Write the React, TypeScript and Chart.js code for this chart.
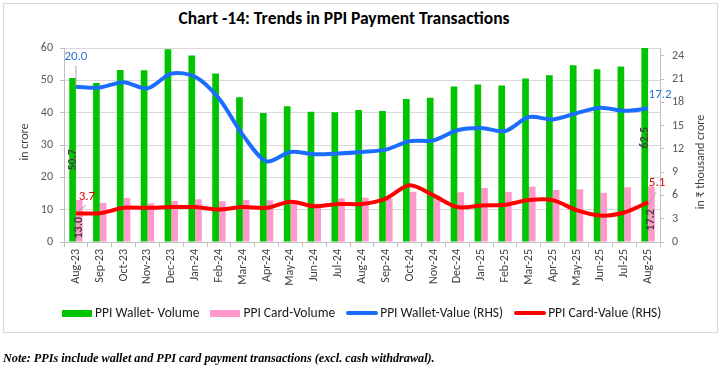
import React, { useEffect, useRef } from 'react';
import { Chart, registerables } from 'chart.js';

Chart.register(...registerables);

const categories = [
  'Aug-23', 'Sep-23', 'Oct-23', 'Nov-23', 'Dec-23', 'Jan-24', 'Feb-24', 'Mar-24', 'Apr-24',
  'May-24', 'Jun-24', 'Jul-24', 'Aug-24', 'Sep-24', 'Oct-24', 'Nov-24', 'Dec-24', 'Jan-25',
  'Feb-25', 'Mar-25', 'Apr-25', 'May-25', 'Jun-25', 'Jul-25', 'Aug-25',
];
const walletVolume = [50.7, 49.2, 53.2, 53.1, 59.6, 57.7, 52.1, 44.8, 39.9, 42.0, 40.3, 40.1, 40.8, 40.5, 44.2, 44.6, 48.1, 48.7, 48.4, 50.6, 51.6, 54.7, 53.4, 54.3, 62.5];
const cardVolume = [13.0, 12.1, 13.6, 11.9, 12.7, 13.2, 12.6, 13.0, 12.9, 11.8, 11.9, 13.5, 13.7, 13.5, 15.5, 14.0, 15.4, 16.7, 15.5, 17.1, 16.1, 16.3, 15.2, 16.9, 17.2];
const walletValue = [20.0, 19.9, 20.6, 19.8, 21.7, 21.3, 18.5, 13.8, 10.4, 11.6, 11.3, 11.4, 11.6, 11.9, 13.0, 13.1, 14.4, 14.7, 14.3, 16.1, 15.8, 16.6, 17.3, 16.9, 17.2];
const cardValue = [3.7, 3.7, 4.4, 4.4, 4.5, 4.5, 4.2, 4.5, 4.4, 5.2, 4.6, 4.9, 4.9, 5.6, 7.3, 6.0, 4.5, 4.7, 4.8, 5.4, 5.4, 4.1, 3.4, 3.8, 5.1];

const leftTicks = [0, 10, 20, 30, 40, 50, 60];
const rightTicks = [0, 3, 6, 9, 12, 15, 18, 21, 24];

const seriesNames = ['PPI Wallet- Volume', 'PPI Card-Volume', 'PPI Wallet-Value (RHS)', 'PPI Card-Value (RHS)'];
const titleText = 'Chart -14: Trends in PPI Payment Transactions';
const leftAxisTitle = 'in crore';
const rightAxisTitle = 'in ₹ thousand crore';
const noteText = 'Note: PPIs include wallet and PPI card payment transactions (excl. cash withdrawal).';

const GREEN = '#00c400';
const PINK = '#ff99cc';
const BLUE = '#1a6dff';
const RED = '#ff0000';
const FONT = 'Carlito, Lato, "Open Sans", sans-serif';

const annotatePlugin = {
  id: 'annotate',
  afterDatasetsDraw(chart: any) {
    const ctx = chart.ctx as CanvasRenderingContext2D;
    const last = categories.length - 1;
    const wv = chart.getDatasetMeta(0).data;
    const cv = chart.getDatasetMeta(1).data;
    const wl = chart.getDatasetMeta(2).data;
    const cl = chart.getDatasetMeta(3).data;

    const rotText = (txt: string, x: number, y: number) => {
      ctx.save();
      ctx.translate(x, y);
      ctx.rotate(-Math.PI / 2);
      ctx.textAlign = 'center';
      ctx.textBaseline = 'middle';
      ctx.fillText(txt, 0, 0);
      ctx.restore();
    };
    const leader = (x1: number, y1: number, x2: number, y2: number) => {
      ctx.save();
      ctx.strokeStyle = '#a6a6a6';
      ctx.lineWidth = 1;
      ctx.beginPath();
      ctx.moveTo(x1, y1);
      ctx.lineTo(x2, y2);
      ctx.stroke();
      ctx.restore();
    };

    ctx.save();
    ctx.font = `bold 12px ${FONT}`;
    ctx.fillStyle = '#404040';
    rotText(walletVolume[0].toFixed(1), wv[0].x, (wv[0].y + wv[0].base) / 2);
    rotText(cardVolume[0].toFixed(1), cv[0].x, (cv[0].y + cv[0].base) / 2 + 7);
    rotText(walletVolume[last].toFixed(1), wv[last].x, (wv[last].y + wv[last].base) / 2 - 3);
    rotText(cardVolume[last].toFixed(1), cv[last].x, (cv[last].y + cv[last].base) / 2 + 6);

    ctx.font = `13px ${FONT}`;
    ctx.textAlign = 'center';
    ctx.textBaseline = 'middle';
    ctx.fillStyle = '#2f74d0';
    let p = wl[0];
    leader(p.x, p.y - 21, p.x, p.y - 1);
    ctx.fillText(walletValue[0].toFixed(1), p.x, p.y - 30);
    p = wl[last];
    ctx.fillText(walletValue[last].toFixed(1), p.x + 12, p.y - 14);
    ctx.fillStyle = '#e00000';
    p = cl[0];
    leader(p.x + 10, p.y - 8, p.x + 1, p.y - 1);
    ctx.fillText(cardValue[0].toFixed(1), p.x + 11, p.y - 17);
    p = cl[last];
    leader(p.x + 8, p.y - 10, p.x + 1, p.y);
    ctx.fillText(cardValue[last].toFixed(1), p.x + 9, p.y - 20);
    ctx.restore();
  },
  afterDraw(chart: any) {
    const ctx = chart.ctx as CanvasRenderingContext2D;
    const { top, bottom } = chart.chartArea;
    ctx.save();
    ctx.font = `12px ${FONT}`;
    ctx.fillStyle = '#404040';
    ctx.textAlign = 'center';
    ctx.textBaseline = 'middle';
    ctx.translate(25, (top + bottom) / 2 - 3);
    ctx.rotate(-Math.PI / 2);
    ctx.fillText(leftAxisTitle, 0, 0);
    ctx.restore();
    ctx.save();
    ctx.font = `12px ${FONT}`;
    ctx.fillStyle = '#404040';
    ctx.textAlign = 'center';
    ctx.textBaseline = 'middle';
    ctx.translate(701, (top + bottom) / 2 + 17);
    ctx.rotate(-Math.PI / 2);
    ctx.fillText(rightAxisTitle, 0, 0);
    ctx.restore();
  },
};

export default function App() {
  const canvasRef = useRef<HTMLCanvasElement | null>(null);

  useEffect(() => {
    if (!canvasRef.current) return;
    const tickFont = { family: FONT, size: 12 };
    const chart = new Chart(canvasRef.current, {
      type: 'bar',
      data: {
        labels: categories,
        datasets: [
          {
            type: 'bar',
            label: seriesNames[0],
            data: walletVolume,
            backgroundColor: GREEN,
            yAxisID: 'y',
            order: 2,
            categoryPercentage: 0.56,
            barPercentage: 1.0,
          },
          {
            type: 'bar',
            label: seriesNames[1],
            data: cardVolume,
            backgroundColor: PINK,
            yAxisID: 'y',
            order: 2,
            categoryPercentage: 0.56,
            barPercentage: 1.0,
          },
          {
            type: 'line',
            label: seriesNames[2],
            data: walletValue,
            borderColor: BLUE,
            backgroundColor: BLUE,
            borderWidth: 4,
            pointRadius: 0,
            tension: 0.3,
            yAxisID: 'y1',
            order: 1,
          },
          {
            type: 'line',
            label: seriesNames[3],
            data: cardValue,
            borderColor: RED,
            backgroundColor: RED,
            borderWidth: 4,
            pointRadius: 0,
            tension: 0.3,
            yAxisID: 'y1',
            order: 0,
          },
        ] as any,
      },
      options: {
        responsive: false,
        animation: false,
        layout: { padding: { top: 48, bottom: 82, left: 0, right: 0 } },
        plugins: {
          legend: { display: false },
          title: { display: false },
          tooltip: { enabled: false },
        },
        scales: {
          x: {
            grid: { display: true, drawOnChartArea: false, offset: true, tickLength: 5, color: '#bfbfbf' },
            border: { display: true, color: '#bfbfbf' },
            ticks: {
              minRotation: 90,
              maxRotation: 90,
              autoSkip: false,
              font: { family: FONT, size: 12 },
              color: '#404040',
              padding: 2,
            },
            afterFit: (s: any) => { s.height = 45; },
          },
          y: {
            position: 'left',
            min: 0,
            max: 60,
            ticks: { color: '#595959', font: tickFont, padding: 7 },
            grid: { color: '#d9d9d9', tickLength: 4, tickColor: '#bfbfbf' },
            border: { display: true, color: '#bfbfbf' },
            afterBuildTicks: (s: any) => { s.ticks = leftTicks.map((v) => ({ value: v })); },
            afterFit: (s: any) => { s.width = 64; },
          },
          y1: {
            position: 'right',
            min: 0,
            max: 25,
            ticks: { color: '#595959', font: tickFont, padding: 8 },
            grid: { drawOnChartArea: false, tickLength: 4, color: '#bfbfbf' },
            border: { display: true, color: '#bfbfbf' },
            afterBuildTicks: (s: any) => { s.ticks = rightTicks.map((v) => ({ value: v })); },
            afterFit: (s: any) => { s.width = 62; },
          },
        } as any,
      },
      plugins: [annotatePlugin],
    });
    return () => chart.destroy();
  }, []);

  const legendItems = [
    { name: seriesNames[0], kind: 'box', color: GREEN },
    { name: seriesNames[1], kind: 'box', color: PINK },
    { name: seriesNames[2], kind: 'line', color: BLUE },
    { name: seriesNames[3], kind: 'line', color: RED },
  ];

  return (
    <div style={{ position: 'absolute', left: 0, top: 0, width: 722, height: 369, background: '#fff', overflow: 'hidden' }}>
      <div style={{ position: 'absolute', left: 3, top: 3, width: 715, height: 330, border: '1px solid #d9d9d9', boxSizing: 'border-box' }} />
      <div style={{ position: 'absolute', left: 0, top: 7, width: 688, textAlign: 'center', fontFamily: FONT, fontWeight: 'bold', fontSize: 17.5, lineHeight: '22px', color: '#000', whiteSpace: 'nowrap' }}>
        {titleText}
      </div>
      <canvas ref={canvasRef} width={722} height={369} style={{ position: 'absolute', left: 0, top: 0 }} />
      <div style={{ position: 'absolute', left: 62, top: 304, display: 'flex', alignItems: 'center', fontFamily: FONT, fontSize: 13.5, lineHeight: '18px', color: '#1a1a1a', whiteSpace: 'nowrap' }}>
        {legendItems.map((it, i) => (
          <div key={i} style={{ display: 'flex', alignItems: 'center', marginRight: i < 3 ? 11 : 0 }}>
            {it.kind === 'box' ? (
              <span style={{ display: 'inline-block', width: 30, height: 7, background: it.color, marginRight: 3 }} />
            ) : (
              <span style={{ display: 'inline-block', width: 32, height: 4, borderRadius: 2, background: it.color, marginRight: 2 }} />
            )}
            <span>{it.name}</span>
          </div>
        ))}
      </div>
      <div style={{ position: 'absolute', left: 3, top: 351, fontFamily: '"Liberation Serif", serif', fontStyle: 'italic', fontWeight: 'bold', fontSize: 12.2, lineHeight: '14px', color: '#000', whiteSpace: 'nowrap' }}>
        {noteText}
      </div>
    </div>
  );
}
